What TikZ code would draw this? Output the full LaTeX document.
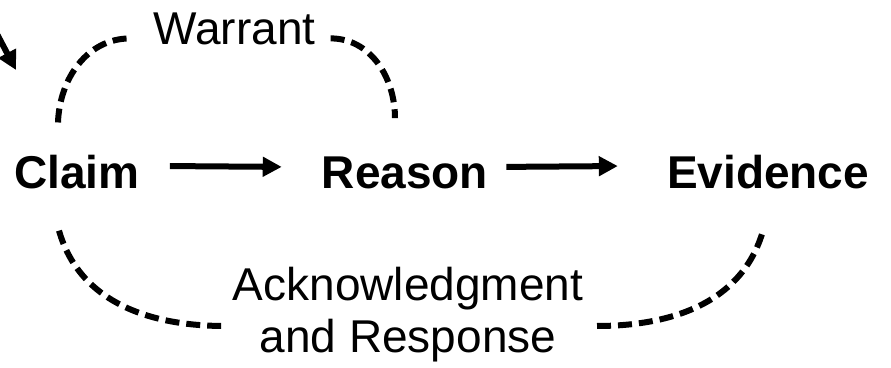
\documentclass[tikz,border=0pt]{standalone}
\usepackage{fontspec}
\setmainfont{Liberation Sans}
\usetikzlibrary{arrows.meta}
\tikzset{
  plain text/.style={font=\fontsize{46}{52}\selectfont, inner sep=0pt, anchor=base},
  stage/.style={plain text, font=\fontsize{46}{52}\selectfont\bfseries},
  flow/.style={line width=6pt, -{Triangle[length=19pt,width=19pt]}},
  link/.style={line width=6pt, dash pattern=on 14pt off 7pt},
}
\begin{document}
\begin{tikzpicture}[x=1pt,y=1pt]
\useasboundingbox (0,0) rectangle (891,367);
\node [stage] (claim) at (77,178) {Claim};
\node [stage] (reason) at (405,178) {Reason};
\node [stage] (evidence) at (768,178) {Evidence};
\node [plain text] (warrant) at (234.5,322) {Warrant};
\node [plain text, align=center] (ack) at (408,15) {Acknowledgment\\and Response};
\draw [flow] ([xshift=30pt,yshift=6.5pt]claim.east) -- ([xshift=-40pt,yshift=6.5pt]reason.west);
\draw [flow] ([xshift=18pt,yshift=6.5pt]reason.east) -- ([xshift=-49pt,yshift=6.5pt]evidence.west);
\draw [link] ([xshift=-19pt,yshift=33pt]claim.north) to[out=88,in=180] ([xshift=-23pt,yshift=-9pt]warrant.west);
\draw [link] ([xshift=15pt,yshift=-9pt]warrant.east) to[out=0,in=90] ([xshift=-10pt,yshift=39pt]reason.north);
\draw [link] ([xshift=-18pt,yshift=-41pt]claim.south) to[out=-74,in=180] (225,41);
\draw [link] (597,41) to[out=0,in=-106] ([xshift=-5pt,yshift=-41pt]evidence.south);
% arrow coming in from off the page
\coordinate (offpage) at (-12,350);
\coordinate (offtip) at (16,297);
\draw [flow] (offpage) -- (offtip);
\end{tikzpicture}
\end{document}
